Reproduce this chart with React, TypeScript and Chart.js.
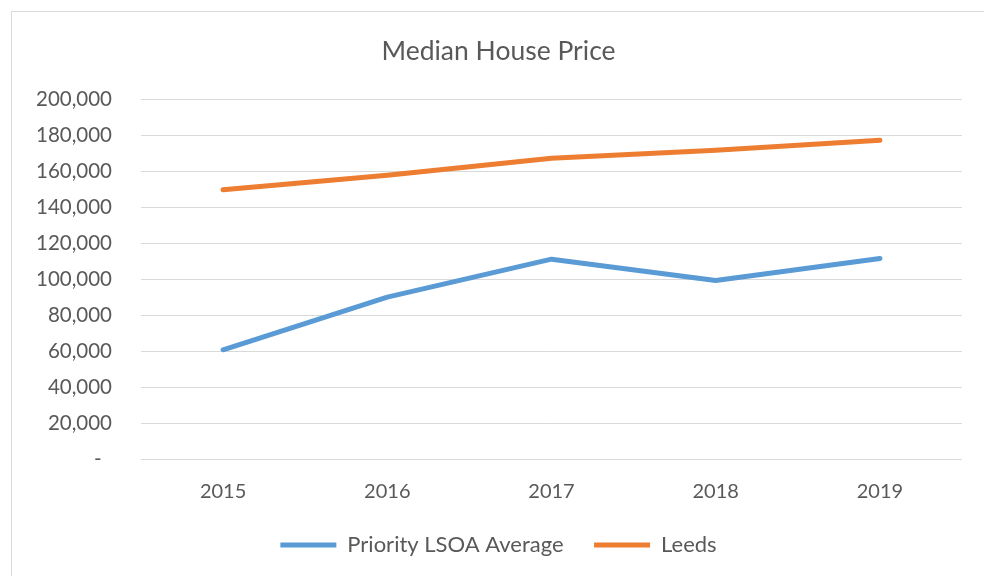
import React, { useEffect, useRef } from "react";
import { Chart, registerables } from "chart.js";

Chart.register(...registerables);

const years = ["2015", "2016", "2017", "2018", "2019"];
const priorityLSOA = [61000, 90300, 111400, 99500, 111800];
const leeds = [150000, 158000, 167500, 172000, 177500];
const seriesNames = ["Priority LSOA Average", "Leeds"];
const chartTitle = "Median House Price";

const FONT = "Lato, 'Open Sans', sans-serif";
const TEXT = "#595959";
const GRID = "#d9d9d9";

const frame = {
  id: "frame",
  beforeDraw(chart: any) {
    const ctx = chart.ctx;
    ctx.save();
    ctx.fillStyle = "#ffffff";
    ctx.fillRect(0, 0, chart.width, chart.height);
    ctx.strokeStyle = GRID;
    ctx.lineWidth = 1;
    ctx.strokeRect(11.5, 11.5, 2000, 2000);
    ctx.restore();
  },
};

export default function App() {
  const ref = useRef<HTMLCanvasElement | null>(null);
  useEffect(() => {
    if (!ref.current) return;
    const chart = new Chart(ref.current, {
      type: "line",
      data: {
        labels: years,
        datasets: [
          {
            label: seriesNames[0],
            data: priorityLSOA,
            borderColor: "#5b9bd5",
            backgroundColor: "#5b9bd5",
            borderWidth: 5,
            borderCapStyle: "round",
            borderJoinStyle: "round",
            pointRadius: 0,
            pointStyle: "line",
            tension: 0,
          },
          {
            label: seriesNames[1],
            data: leeds,
            borderColor: "#ed7d31",
            backgroundColor: "#ed7d31",
            borderWidth: 5,
            borderCapStyle: "round",
            borderJoinStyle: "round",
            pointRadius: 0,
            pointStyle: "line",
            tension: 0,
          },
        ],
      },
      options: {
        animation: false,
        responsive: false,
        layout: { padding: { left: 35, right: 22, top: 0, bottom: 10 } },
        plugins: {
          title: {
            display: true,
            text: chartTitle,
            color: TEXT,
            font: { family: FONT, size: 26.5, weight: "normal" },
            padding: { top: 36, bottom: 32 },
          },
          legend: {
            position: "bottom",
            labels: {
              color: TEXT,
              font: { family: FONT, size: 22 },
              usePointStyle: true,
              pointStyle: "line",
              pointStyleWidth: 56,
              padding: 8,
              generateLabels: (chart: any) => {
                const items = Chart.defaults.plugins.legend.labels.generateLabels(chart);
                items.forEach((it: any, i: number) => {
                  if (i < items.length - 1) it.text = it.text + "    ";
                });
                return items;
              },
            },
          },
          tooltip: { enabled: false },
        },
        scales: {
          x: {
            offset: true,
            grid: { display: false, drawTicks: false },
            border: { display: false },
            ticks: { color: TEXT, font: { family: FONT, size: 20 }, padding: 20.5 },
            afterFit: (s: any) => {
              s.height = 66.5;
            },
          },
          y: {
            min: 0,
            max: 200000,
            grid: { color: GRID, lineWidth: 1, drawTicks: false },
            border: { display: false },
            ticks: {
              stepSize: 20000,
              color: TEXT,
              font: { family: FONT, size: 20.5 },
              padding: 29,
              callback: (v: any) => (Number(v) === 0 ? "-  " : Number(v).toLocaleString("en-US")),
            },
            afterFit: (s: any) => {
              s.width = 106;
            },
          },
        },
      },
      plugins: [frame],
    });
    return () => chart.destroy();
  }, []);
  return (
    <canvas
      ref={ref}
      width={984}
      height={576}
      style={{ position: "fixed", left: 0, top: 0, display: "block" }}
    />
  );
}
